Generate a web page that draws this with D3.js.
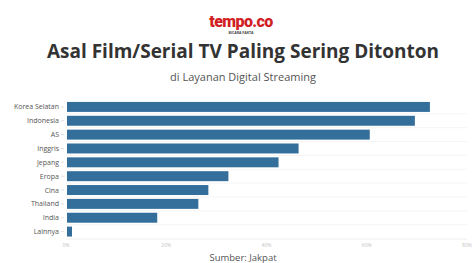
<!DOCTYPE html>
<html lang="id">
<head>
    <meta charset="UTF-8">
    <title>Asal Film/Serial TV Paling Sering Ditonton</title>
    <script src="https://d3js.org/d3.v7.min.js"></script>
    <style>
        body { margin: 0; background: #ffffff; }
        svg { display: block; font-family: "Open Sans", sans-serif; }
        .cat-label { fill: #555; font-size: 7px; text-anchor: end; }
        .tick-label { fill: #c4c4c4; font-size: 5px; text-anchor: middle; }
    </style>
</head>
<body>
    <svg width="475" height="263"></svg>
    <script>
        // data
        var countries = ["Korea Selatan", "Indonesia", "AS", "Inggris", "Jepang", "Eropa", "Cina", "Thailand", "India", "Lainnya"];
        var shares = [72.6, 69.6, 60.6, 46.4, 42.4, 32.4, 28.4, 26.4, 18.2, 1.2];
        var tickValues = [0, 20, 40, 60, 80];
        var tickLabels = ["0%", "20%", "40%", "60%", "80%"];

        var svg = d3.select("svg");

        var x = d3.scaleLinear().domain([0, 80]).range([66, 467]);
        var y = d3.scaleBand().domain(countries).range([100, 238.5]).paddingInner(0.28).paddingOuter(0.14);

        // logo
        svg.append("text")
            .attr("x", 241).attr("y", 27)
            .attr("text-anchor", "middle")
            .style("font-family", "Roboto, sans-serif")
            .style("font-weight", "900")
            .style("font-size", "16px")
            .style("letter-spacing", "-0.6px")
            .attr("fill", "#d21f26")
            .text("tempo.co");
        svg.append("text")
            .attr("x", 241).attr("y", 34)
            .attr("text-anchor", "middle")
            .style("font-size", "3.5px")
            .style("font-weight", "700")
            .attr("fill", "#444")
            .text("BICARA FAKTA");

        // title + subtitle
        svg.append("text")
            .attr("x", 243).attr("y", 58)
            .attr("text-anchor", "middle")
            .style("font-weight", "700")
            .style("font-size", "19px")
            .attr("fill", "#333")
            .text("Asal Film/Serial TV Paling Sering Ditonton");
        svg.append("text")
            .attr("x", 243).attr("y", 81)
            .attr("text-anchor", "middle")
            .style("font-size", "11px")
            .attr("fill", "#555")
            .text("di Layanan Digital Streaming");

        // row separators
        var seps = countries.slice(1);
        svg.append("g").selectAll("line")
            .data(seps)
            .join("line")
            .attr("x1", x(0)).attr("x2", x(80))
            .attr("y1", d => y(d) - y.step() * y.paddingInner() / 2)
            .attr("y2", d => y(d) - y.step() * y.paddingInner() / 2)
            .attr("stroke", "#f1f1f1")
            .attr("stroke-width", 0.8);
        svg.append("line")
            .attr("x1", x(0)).attr("x2", x(80))
            .attr("y1", 239).attr("y2", 239)
            .attr("stroke", "#eeeeee");

        // bars
        svg.append("g").selectAll("rect")
            .data(countries)
            .join("rect")
            .attr("x", x(0) + 1)
            .attr("y", (d, i) => y(d))
            .attr("width", (d, i) => x(shares[i]) - x(0) - 1)
            .attr("height", y.bandwidth())
            .attr("fill", "#346f9c");

        // category labels with small ticks
        var cat = svg.append("g");
        cat.selectAll("text")
            .data(countries)
            .join("text")
            .attr("class", "cat-label")
            .attr("x", 59)
            .attr("y", d => y(d) + y.bandwidth() / 2 + 2.5)
            .text(d => d);
        cat.selectAll("line")
            .data(countries)
            .join("line")
            .attr("x1", 61).attr("x2", 64)
            .attr("y1", d => y(d) + y.bandwidth() / 2)
            .attr("y2", d => y(d) + y.bandwidth() / 2)
            .attr("stroke", "#ccc")
            .attr("stroke-width", 0.6);

        // x axis labels
        svg.append("g").selectAll("text")
            .data(tickValues)
            .join("text")
            .attr("class", "tick-label")
            .attr("x", d => x(d))
            .attr("y", 247)
            .text((d, i) => tickLabels[i]);

        // source
        svg.append("text")
            .attr("x", 243).attr("y", 261)
            .attr("text-anchor", "middle")
            .style("font-size", "9.5px")
            .attr("fill", "#555")
            .text("Sumber: Jakpat");
    </script>
</body>
</html>
